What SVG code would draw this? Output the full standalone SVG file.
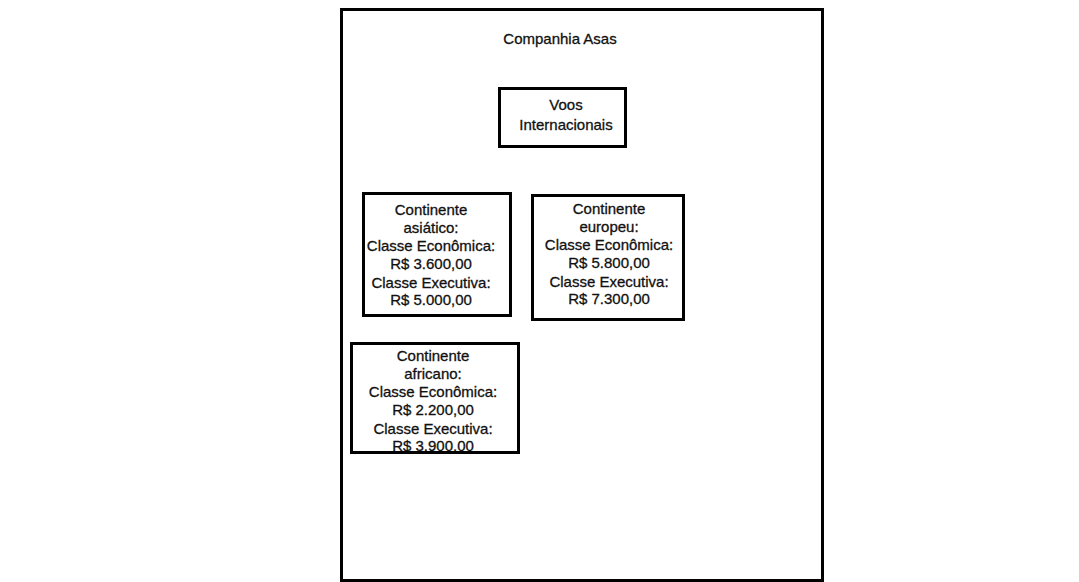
<svg xmlns="http://www.w3.org/2000/svg" width="1079" height="582" viewBox="0 0 1079 582">
<style>
.box{fill:#ffffff;stroke:#000000;stroke-width:3}
.t{font-family:"Liberation Sans",Arial,sans-serif;font-size:15px;fill:#111111;stroke:#111111;stroke-width:0.3;text-anchor:middle}
</style>
<defs>
<clipPath id="clipAfr"><rect x="353" y="345" width="163" height="106"/></clipPath>
</defs>
<rect width="1079" height="582" fill="#ffffff"/>
<g id="frame">
<rect class="box" x="341.5" y="9.5" width="481" height="571"/>
<text class="t" x="560" y="44">Companhia Asas</text>
</g>
<g id="voos">
<rect class="box" x="499.5" y="88.5" width="126" height="58"/>
<text class="t" x="566" y="110">Voos</text>
<text class="t" x="566" y="130">Internacionais</text>
</g>
<g id="asiatico">
<rect class="box" x="363.5" y="193.5" width="147" height="122"/>
<text class="t" x="431" y="215">Continente</text>
<text class="t" x="431" y="233">asiático:</text>
<text class="t" x="431" y="251">Classe Econômica:</text>
<text class="t" x="431" y="269">R$ 3.600,00</text>
<text class="t" x="431" y="288">Classe Executiva:</text>
<text class="t" x="431" y="305">R$ 5.000,00</text>
</g>
<g id="europeu">
<rect class="box" x="532.5" y="195.5" width="151" height="124"/>
<text class="t" x="609" y="214">Continente</text>
<text class="t" x="609" y="232">europeu:</text>
<text class="t" x="609" y="250">Classe Econômica:</text>
<text class="t" x="609" y="268">R$ 5.800,00</text>
<text class="t" x="609" y="287">Classe Executiva:</text>
<text class="t" x="609" y="304">R$ 7.300,00</text>
</g>
<g id="africano">
<rect class="box" x="351.5" y="343.5" width="167" height="109"/>
<g clip-path="url(#clipAfr)">
<text class="t" x="433" y="361">Continente</text>
<text class="t" x="433" y="379">africano:</text>
<text class="t" x="433" y="397">Classe Econômica:</text>
<text class="t" x="433" y="415">R$ 2.200,00</text>
<text class="t" x="433" y="434">Classe Executiva:</text>
<text class="t" x="433" y="451">R$ 3.900,00</text>
</g>
</g>
<g id="connectors"></g>
</svg>
